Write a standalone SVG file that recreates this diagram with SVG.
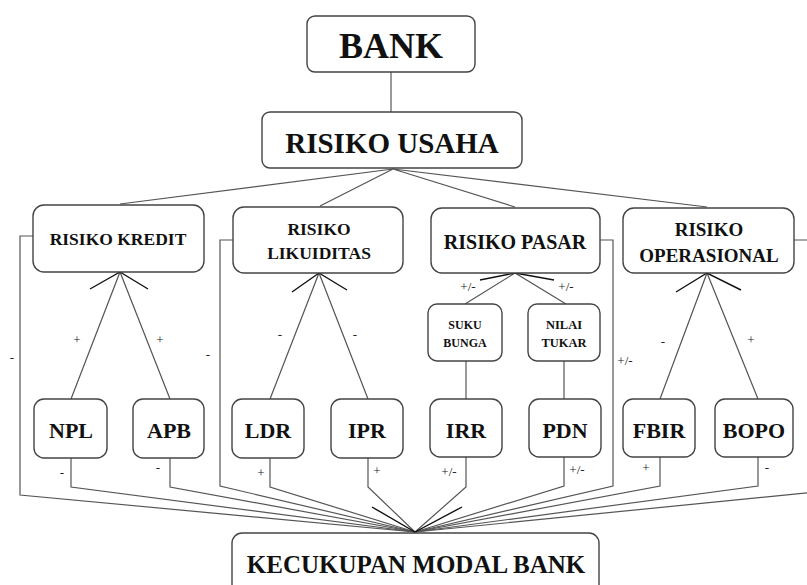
<svg xmlns="http://www.w3.org/2000/svg" width="807" height="585" viewBox="0 0 807 585">
<style>
.box{fill:#fff;stroke:#444;stroke-width:1.4}
.t{font-family:"Liberation Serif","Times New Roman",serif;font-weight:bold;fill:#111;text-anchor:middle}
.lbl{font-family:"Liberation Serif","Times New Roman",serif;font-size:13px;fill:#222;text-anchor:middle}
.ln{fill:none;stroke:#555;stroke-width:1.2}
.ah{fill:none;stroke:#111;stroke-width:1.4}
</style>
<rect width="807" height="585" fill="#fff"/>
<g id="connectors">
<line class="ln" x1="391" y1="72" x2="391" y2="112"/>
<polyline class="ln" points="120,204 393,169 320,206"/>
<polyline class="ln" points="515,207 393,169 707,207"/>
<polyline class="ln" points="71,399 120,272 170,399"/>
<polyline class="ah" points="90,289 120,272 148,289"/>
<polyline class="ln" points="270,399 319,273 368,399"/>
<polyline class="ah" points="292,292 319,273 347,290"/>
<polyline class="ln" points="465,304 515,273 566,304"/>
<polyline class="ah" points="480,280 515,273 554,280"/>
<line class="ln" x1="466" y1="361" x2="466" y2="399"/>
<line class="ln" x1="564" y1="361" x2="564" y2="399"/>
<polyline class="ln" points="660,399 707,273 758,399"/>
<polyline class="ah" points="676,292 707,273 741,290"/>
<polyline class="ln" points="33,236 20,236 20,495 415,532"/>
<polyline class="ln" points="71,458 71,487 415,532"/>
<polyline class="ln" points="170,458 170,487 415,532"/>
<polyline class="ln" points="233,240 220,240 220,486 415,532"/>
<polyline class="ln" points="270,458 270,487 415,532"/>
<polyline class="ln" points="368,458 368,487 415,532"/>
<polyline class="ln" points="466,457 466,487 415,532"/>
<polyline class="ln" points="564,457 564,486 415,532"/>
<polyline class="ln" points="600,240 613,240 613,486 415,532"/>
<polyline class="ln" points="660,457 660,486 415,532"/>
<polyline class="ln" points="758,457 758,486 415,532"/>
<polyline class="ln" points="794,240 815,240 815,492 415,532"/>
<polyline class="ah" points="372,507 415,532 462,507"/>
<text class="lbl" x="77" y="344">+</text>
<text class="lbl" x="160" y="344">+</text>
<text class="lbl" x="280" y="339">-</text>
<text class="lbl" x="355" y="339">-</text>
<text class="lbl" x="663" y="346">-</text>
<text class="lbl" x="751" y="344">+</text>
<text class="lbl" x="468" y="291">+/-</text>
<text class="lbl" x="566" y="291">+/-</text>
<text class="lbl" x="12" y="362">-</text>
<text class="lbl" x="208" y="359">-</text>
<text class="lbl" x="625" y="365">+/-</text>
<text class="lbl" x="62" y="477">-</text>
<text class="lbl" x="158" y="472">-</text>
<text class="lbl" x="261" y="477">+</text>
<text class="lbl" x="377" y="475">+</text>
<text class="lbl" x="449" y="476">+/-</text>
<text class="lbl" x="577" y="474">+/-</text>
<text class="lbl" x="646" y="472">+</text>
<text class="lbl" x="767" y="472">-</text>
</g>
<g id="bank"><rect class="box" x="307" y="16" width="168" height="56" rx="8"/><text class="t" x="391" y="58" font-size="36">BANK</text></g>
<g id="risiko-usaha"><rect class="box" x="262" y="112" width="260" height="56" rx="8"/><text class="t" x="392" y="153" font-size="29">RISIKO USAHA</text></g>
<g id="risiko-kredit"><rect class="box" x="33" y="205" width="171" height="67" rx="11"/><text class="t" x="118" y="245" font-size="17.5">RISIKO KREDIT</text></g>
<g id="risiko-likuiditas"><rect class="box" x="233" y="207" width="170" height="66" rx="11"/><text class="t" x="319" y="235" font-size="17.5">RISIKO</text><text class="t" x="319" y="259" font-size="17.5">LIKUIDITAS</text></g>
<g id="risiko-pasar"><rect class="box" x="431" y="208" width="169" height="65" rx="11"/><text class="t" x="515" y="249" font-size="20">RISIKO PASAR</text></g>
<g id="risiko-operasional"><rect class="box" x="623" y="208" width="171" height="65" rx="11"/><text class="t" x="709" y="236" font-size="19">RISIKO</text><text class="t" x="709" y="262" font-size="19">OPERASIONAL</text></g>
<g id="suku-bunga"><rect class="box" x="428" y="304" width="74" height="57" rx="9"/><text class="t" x="465" y="329" font-size="12">SUKU</text><text class="t" x="465" y="347" font-size="12">BUNGA</text></g>
<g id="nilai-tukar"><rect class="box" x="528" y="304" width="72" height="57" rx="9"/><text class="t" x="564" y="329" font-size="12.5">NILAI</text><text class="t" x="564" y="347" font-size="12.5">TUKAR</text></g>
<g id="npl"><rect class="box" x="34" y="399" width="73" height="59" rx="10"/><text class="t" x="71" y="438" font-size="22">NPL</text></g>
<g id="apb"><rect class="box" x="133" y="399" width="71" height="59" rx="10"/><text class="t" x="169" y="438" font-size="22">APB</text></g>
<g id="ldr"><rect class="box" x="232" y="399" width="72" height="59" rx="10"/><text class="t" x="268" y="438" font-size="22">LDR</text></g>
<g id="ipr"><rect class="box" x="331" y="399" width="72" height="59" rx="10"/><text class="t" x="367" y="438" font-size="22">IPR</text></g>
<g id="irr"><rect class="box" x="430" y="399" width="72" height="58" rx="10"/><text class="t" x="466" y="438" font-size="22">IRR</text></g>
<g id="pdn"><rect class="box" x="529" y="399" width="72" height="58" rx="10"/><text class="t" x="565" y="438" font-size="22">PDN</text></g>
<g id="fbir"><rect class="box" x="623" y="399" width="72" height="58" rx="10"/><text class="t" x="659" y="438" font-size="22">FBIR</text></g>
<g id="bopo"><rect class="box" x="715" y="399" width="78" height="58" rx="10"/><text class="t" x="754" y="438" font-size="22">BOPO</text></g>
<g id="kecukupan-modal-bank"><rect class="box" x="232" y="533" width="367" height="70" rx="10"/><text class="t" x="416" y="573" font-size="25">KECUKUPAN MODAL BANK</text></g>
</svg>
